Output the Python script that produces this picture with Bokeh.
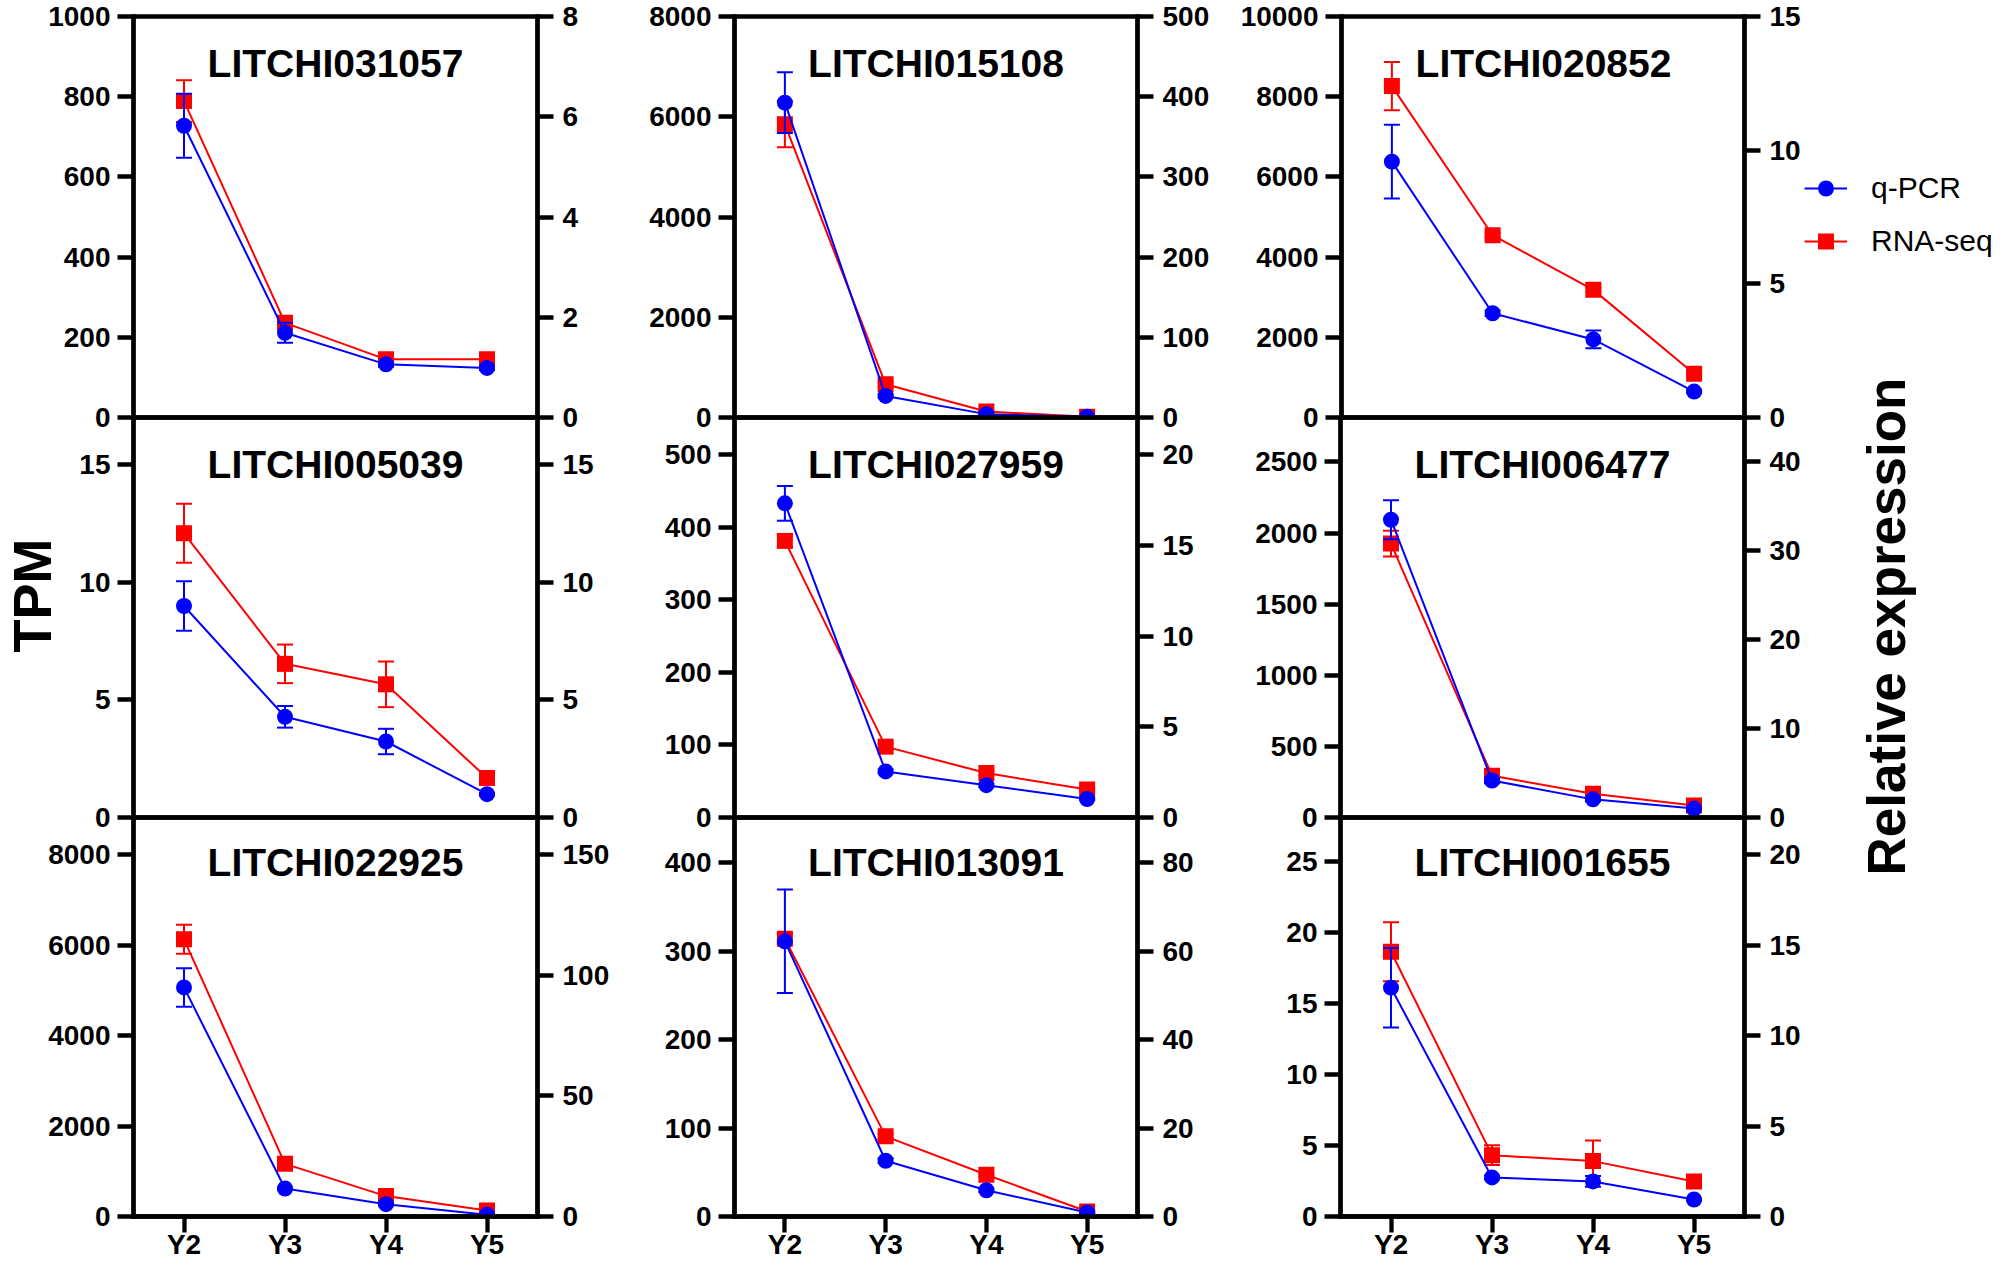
import math
from bokeh.plotting import figure
from bokeh.models import (ColumnDataSource, Range1d, LinearAxis, FixedTicker, Whisker,
                          TeeHead, Label, Legend, LegendItem, FactorRange)
from bokeh.layouts import row, column
from bokeh.embed import file_html
from bokeh.resources import INLINE

# ---------------- data ----------------
years = ["Y2", "Y3", "Y4", "Y5"]
genes = ["LITCHI031057", "LITCHI015108", "LITCHI020852",
         "LITCHI005039", "LITCHI027959", "LITCHI006477",
         "LITCHI022925", "LITCHI013091", "LITCHI001655"]

# RNA-seq (TPM, left axis): mean and error
tpm_031057 = [789, 236, 145, 145]
tpm_031057_err = [52, 8, 6, 6]
tpm_015108 = [5850, 662, 119, 14]
tpm_015108_err = [460, 40, 10, 5]
tpm_020852 = [8265, 4546, 3183, 1091]
tpm_020852_err = [600, 60, 50, 30]
tpm_005039 = [12.08, 6.53, 5.66, 1.68]
tpm_005039_err = [1.25, 0.82, 0.97, 0.10]
tpm_027959 = [381, 97.6, 61.2, 38.6]
tpm_027959_err = [8, 4, 3, 2]
tpm_006477 = [1926, 294, 167, 85]
tpm_006477_err = [90, 20, 15, 10]
tpm_022925 = [6129, 1164, 451, 131]
tpm_022925_err = [320, 40, 30, 20]
tpm_013091 = [314, 90.6, 47.2, 5.6]
tpm_013091_err = [6, 3, 2, 1]
tpm_001655 = [18.65, 4.32, 3.90, 2.47]
tpm_001655_err = [2.08, 0.70, 1.46, 0.10]

# q-PCR (relative expression, right axis): mean and error
qpcr_031057 = [5.82, 1.69, 1.06, 0.99]
qpcr_031057_err = [0.64, 0.20, 0.05, 0.04]
qpcr_015108 = [392.6, 26.9, 4.2, 0.9]
qpcr_015108_err = [38, 2.0, 0.5, 0.2]
qpcr_020852 = [9.57, 3.90, 2.92, 0.97]
qpcr_020852_err = [1.38, 0.10, 0.33, 0.05]
qpcr_005039 = [8.99, 4.28, 3.23, 0.99]
qpcr_005039_err = [1.05, 0.46, 0.54, 0.05]
qpcr_027959 = [17.32, 2.54, 1.78, 1.02]
qpcr_027959_err = [0.96, 0.10, 0.10, 0.05]
qpcr_006477 = [33.5, 4.16, 2.04, 1.0]
qpcr_006477_err = [2.2, 0.3, 0.2, 0.1]
qpcr_022925 = [94.96, 11.6, 5.1, 0.7]
qpcr_022925_err = [8.0, 0.5, 0.5, 0.2]
qpcr_013091 = [62.2, 12.6, 5.93, 0.9]
qpcr_013091_err = [11.7, 0.5, 0.4, 0.2]
qpcr_001655 = [12.65, 2.16, 1.94, 0.94]
qpcr_001655_err = [2.2, 0.10, 0.30, 0.05]

tpm_series = [tpm_031057, tpm_015108, tpm_020852, tpm_005039, tpm_027959,
              tpm_006477, tpm_022925, tpm_013091, tpm_001655]
tpm_errors = [tpm_031057_err, tpm_015108_err, tpm_020852_err, tpm_005039_err, tpm_027959_err,
              tpm_006477_err, tpm_022925_err, tpm_013091_err, tpm_001655_err]
qpcr_series = [qpcr_031057, qpcr_015108, qpcr_020852, qpcr_005039, qpcr_027959,
               qpcr_006477, qpcr_022925, qpcr_013091, qpcr_001655]
qpcr_errors = [qpcr_031057_err, qpcr_015108_err, qpcr_020852_err, qpcr_005039_err, qpcr_027959_err,
               qpcr_006477_err, qpcr_022925_err, qpcr_013091_err, qpcr_001655_err]

# axis ranges and tick labels
tpm_max = [1000, 8000, 10000, 17, 551, 2812.5, 8822, 451, 28.1]
rel_max = [8, 500, 15, 17, 22.05, 45, 165.4, 90.2, 22.06]
tpm_ticks = [[0, 200, 400, 600, 800, 1000], [0, 2000, 4000, 6000, 8000],
             [0, 2000, 4000, 6000, 8000, 10000], [0, 5, 10, 15],
             [0, 100, 200, 300, 400, 500], [0, 500, 1000, 1500, 2000, 2500],
             [0, 2000, 4000, 6000, 8000], [0, 100, 200, 300, 400],
             [0, 5, 10, 15, 20, 25]]
rel_ticks = [[0, 2, 4, 6, 8], [0, 100, 200, 300, 400, 500], [0, 5, 10, 15],
             [0, 5, 10, 15], [0, 5, 10, 15, 20], [0, 10, 20, 30, 40],
             [0, 50, 100, 150], [0, 20, 40, 60, 80], [0, 5, 10, 15, 20]]

# ---------------- style ----------------
BLUE = "#0000FF"
RED = "#FF0000"
FONT = "Liberation Sans"
AX_W = 4.3
PAGE_W, PAGE_H = 1996, 1262

col_geom = [(133, 404, 98), (99, 403, 100), (103, 404, 252)]   # left border, frame, right border
row_geom = [(16, 401, 20), (20, 400, 20), (20, 401, 44)]        # top border, frame, bottom border


def style_axis(ax, standoff):
    ax.axis_line_width = AX_W
    ax.axis_line_color = "black"
    ax.axis_line_cap = "square"
    ax.major_tick_line_width = AX_W
    ax.major_tick_line_color = "black"
    ax.major_tick_out = 16
    ax.major_tick_in = 0
    ax.minor_tick_out = 0
    ax.minor_tick_in = 0
    ax.major_label_text_font = FONT
    ax.major_label_text_font_style = "bold"
    ax.major_label_text_font_size = "28px"
    ax.major_label_text_color = "black"
    ax.major_label_standoff = standoff


def whisker(src, color, yname=None):
    kw = dict(source=src, base="x", upper="hi", lower="lo", dimension="height",
              line_color=color, line_width=2, level="glyph",
              upper_head=TeeHead(size=16, line_color=color, line_width=2),
              lower_head=TeeHead(size=16, line_color=color, line_width=2))
    if yname:
        kw["y_range_name"] = yname
    return Whisker(**kw)


figs = []
for k in range(9):
    r, c = divmod(k, 3)
    L, W, R = col_geom[c]
    T, H, B = row_geom[r]
    p = figure(x_range=FactorRange(factors=years), y_range=Range1d(0, tpm_max[k]),
               width=L + W + R, height=T + H + B,
               min_border_left=L, min_border_right=R, min_border_top=T, min_border_bottom=B,
               output_backend="svg", toolbar_location=None, tools="", title=None)
    p.extra_y_ranges = {"rel": Range1d(0, rel_max[k])}
    p.add_layout(LinearAxis(y_range_name="rel"), "right")
    p.xgrid.visible = False
    p.ygrid.visible = False
    p.outline_line_color = "black"
    p.outline_line_width = AX_W
    p.background_fill_color = None
    p.border_fill_color = None

    style_axis(p.left[0], 7)
    p.left[0].ticker = FixedTicker(ticks=tpm_ticks[k])
    style_axis(p.right[0], 9)
    p.right[0].ticker = FixedTicker(ticks=rel_ticks[k])
    if r < 2:
        p.xaxis.visible = False
    else:
        style_axis(p.xaxis[0], -4)

    t, te = tpm_series[k], tpm_errors[k]
    q, qe = qpcr_series[k], qpcr_errors[k]
    src_r = ColumnDataSource(dict(x=years, y=t, lo=[a - b for a, b in zip(t, te)],
                                  hi=[a + b for a, b in zip(t, te)]))
    src_b = ColumnDataSource(dict(x=years, y=q, lo=[a - b for a, b in zip(q, qe)],
                                  hi=[a + b for a, b in zip(q, qe)]))

    p.renderers.append(whisker(src_r, RED))
    p.line("x", "y", source=src_r, line_color=RED, line_width=2)
    p.scatter("x", "y", source=src_r, marker="square", size=16,
              fill_color=RED, line_color=None)
    p.renderers.append(whisker(src_b, BLUE, "rel"))
    p.line("x", "y", source=src_b, line_color=BLUE, line_width=2, y_range_name="rel")
    p.scatter("x", "y", source=src_b, marker="circle", size=16,
              fill_color=BLUE, line_color=None, y_range_name="rel")

    p.add_layout(Label(x=W / 2, y=H - 46.5, x_units="screen", y_units="screen",
                       text=genes[k], text_align="center", text_baseline="alphabetic",
                       text_font=FONT, text_font_style="bold", text_font_size="39px",
                       text_color="black"))
    figs.append(p)

r1 = row(figs[0], figs[1], figs[2])
r2 = row(figs[3], figs[4], figs[5])
r3 = row(figs[6], figs[7], figs[8])
r2.margin = (-40, 0, 0, 0)
r3.margin = (-40, 0, 0, 0)
grid = column(r1, r2, r3)

# ---- full-page background canvas holding the shared axis titles and the legend ----
bg = figure(width=PAGE_W, height=PAGE_H, x_range=Range1d(0, 1), y_range=Range1d(0, 1),
            min_border_left=0, min_border_right=0, min_border_top=0, min_border_bottom=0,
            output_backend="svg", toolbar_location=None, tools="", title=None)
bg.axis.visible = False
bg.grid.visible = False
bg.outline_line_color = None
bg.background_fill_color = None
bg.border_fill_color = None

bg.add_layout(Label(x=31.5, y=667, x_units="screen", y_units="screen",
                    text="TPM", angle=math.pi / 2, text_align="center",
                    text_baseline="middle", text_font=FONT,
                    text_font_style="bold", text_font_size="54px", text_color="black"))
bg.add_layout(Label(x=1886, y=636, x_units="screen", y_units="screen",
                    text="Relative expression", angle=math.pi / 2, text_align="center",
                    text_baseline="middle", text_font=FONT,
                    text_font_style="bold", text_font_size="53px", text_color="black"))

# legend key glyphs (no visible data; they only supply the legend samples)
nan = float("nan")
kl_b = bg.line(x=[nan], y=[nan], line_color=BLUE, line_width=2)
ks_b = bg.scatter(x=[nan], y=[nan], marker="circle", size=16, fill_color=BLUE, line_color=None)
kl_r = bg.line(x=[nan], y=[nan], line_color=RED, line_width=2)
ks_r = bg.scatter(x=[nan], y=[nan], marker="square", size=16, fill_color=RED, line_color=None)
legend = Legend(items=[LegendItem(label="q-PCR", renderers=[kl_b, ks_b]),
                       LegendItem(label="RNA-seq", renderers=[kl_r, ks_r])],
                location=(1804, 1001), orientation="vertical",
                glyph_width=43, glyph_height=40, label_height=40,
                label_standoff=24, spacing=13, padding=0, margin=0,
                border_line_color=None, background_fill_color=None,
                label_text_font=FONT, label_text_font_size="30px",
                label_text_color="black")
bg.add_layout(legend)

grid.margin = (-PAGE_H, 0, 0, 0)
layout = column(bg, grid)

open("out.html", "w").write(file_html(layout, INLINE))
